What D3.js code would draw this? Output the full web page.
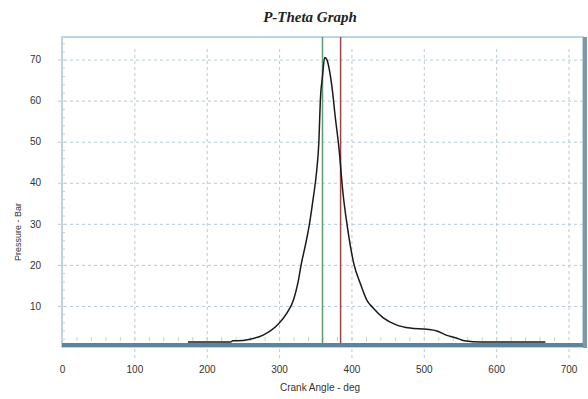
<!DOCTYPE html>
<html>
<head>
<meta charset="utf-8">
<script src="https://cdn.jsdelivr.net/npm/d3@7"></script>
<style>
  body { margin: 0; background: #fff; }
  svg { display: block; }
  .tick text { font-family: "Liberation Sans", Arial, sans-serif; font-size: 10px; fill: #333; }
</style>
</head>
<body>
<svg id="chart" width="588" height="399"></svg>
<script>
// crank angle (deg) vs cylinder pressure (bar)
var angle = [174, 233, 236, 242, 260, 278, 298, 311, 320, 326, 331, 336, 342, 347, 352, 355, 357, 360, 363, 366, 370, 374, 377, 383, 388, 395, 403, 412, 421, 430, 444, 462, 481, 504, 518, 531, 545, 556, 580, 668];
var pressure = [1.2, 1.2, 1.5, 1.5, 1.9, 2.9, 5.4, 8.3, 11.5, 15.6, 20.5, 24.5, 30, 36, 43, 50, 60, 66, 70.5, 70, 67, 62, 57, 48, 38, 28.5, 20.5, 15.6, 11.5, 9.5, 7.1, 5.4, 4.6, 4.3, 3.9, 2.9, 2.2, 1.5, 1.2, 1.2];

var xTicks = [0, 100, 200, 300, 400, 500, 600, 700];
var yTicks = [10, 20, 30, 40, 50, 60, 70];
var markers = [360, 385];   // green, red

var width = 588,
    height = 399,
    margin = {top: 37, right: 5, bottom: 52, left: 62};

var svg = d3.select("#chart");

var x = d3.scaleLinear().domain([0, 720]).range([margin.left, width - margin.right]);
var y = d3.scaleLinear().domain([0, 75.5]).range([height - margin.bottom, margin.top]);

var data = angle.map((a, i) => ({x: a, y: pressure[i]}));

// title
svg.append("text")
    .attr("x", 310)
    .attr("y", 22)
    .attr("text-anchor", "middle")
    .attr("font-family", "Liberation Serif, Times New Roman, serif")
    .attr("font-style", "italic")
    .attr("font-weight", "bold")
    .attr("font-size", 15)
    .attr("fill", "#222")
    .text("P-Theta Graph");

// plot frame
svg.append("rect")
    .attr("x", x(0))
    .attr("y", y.range()[1])
    .attr("width", x(720) - x(0))
    .attr("height", y(0) - y.range()[1])
    .attr("fill", "#fff")
    .attr("stroke", "#a9c7d6")
    .attr("stroke-width", 1.5);

// grid
svg.append("g")
    .attr("transform", "translate(0," + y(0) + ")")
    .call(d3.axisBottom(x).tickValues(xTicks.slice(1)).tickSize(-(y(0) - y.range()[1])).tickFormat(""))
    .call(g => g.select(".domain").remove())
    .call(g => g.selectAll("line").attr("stroke", "#b5cbd6").attr("stroke-dasharray", "3,3").attr("y2", 11 - (y(0) - y.range()[1])).attr("y1", 11));

svg.append("g")
    .attr("transform", "translate(" + x(0) + ",0)")
    .call(d3.axisLeft(y).tickValues(yTicks).tickSize(-(x(720) - x(0)) - 4).tickFormat(""))
    .call(g => g.select(".domain").remove())
    .call(g => g.selectAll("line").attr("stroke", "#b5cbd6").attr("stroke-dasharray", "3,3").attr("transform", "translate(-4,0)"));

// minor ticks inside plot
svg.append("g")
    .attr("transform", "translate(0," + (y(0) - 10) + ")")
    .call(d3.axisBottom(x).tickValues(d3.range(20, 700, 20)).tickSize(4).tickFormat(""))
    .call(g => g.select(".domain").remove())
    .call(g => g.selectAll("line").attr("stroke", "#c2d2da"));

svg.append("g")
    .attr("transform", "translate(" + x(0) + ",0)")
    .call(d3.axisRight(y).tickValues(d3.range(2, 75, 2)).tickSize(3).tickFormat(""))
    .call(g => g.select(".domain").remove())
    .call(g => g.selectAll("line").attr("stroke", "#c2d2da"));

// tick labels
svg.append("g")
    .attr("transform", "translate(0," + y(0) + ")")
    .call(d3.axisBottom(x).tickValues(xTicks).tickSize(0).tickPadding(19))
    .call(g => g.select(".domain").remove());

svg.append("g")
    .attr("transform", "translate(" + (x(0) - 21) + ",0)")
    .call(d3.axisLeft(y).tickValues(yTicks).tickSize(0).tickPadding(0))
    .call(g => g.select(".domain").remove());

// marker lines
var markerColor = ["#5f9c6c", "#a2434c"];
svg.selectAll(".marker")
    .data(markers)
    .join("line")
    .attr("class", "marker")
    .attr("x1", d => x(d))
    .attr("x2", d => x(d))
    .attr("y1", y.range()[1])
    .attr("y2", y(0))
    .attr("stroke", (d, i) => markerColor[i])
    .attr("stroke-width", 1.5);

// pressure curve
var line = d3.line()
    .x(d => x(d.x))
    .y(d => y(d.y))
    .curve(d3.curveMonotoneX);

svg.append("path")
    .datum(data)
    .attr("fill", "none")
    .attr("stroke", "#1a1a1a")
    .attr("stroke-width", 1.5)
    .attr("d", line);

// x axis bar and right border
svg.append("line")
    .attr("x1", x(0))
    .attr("x2", x(720))
    .attr("y1", y(0) - 2)
    .attr("y2", y(0) - 2)
    .attr("stroke", "#5f8398")
    .attr("stroke-width", 4);

svg.append("line")
    .attr("x1", x(720) + 2)
    .attr("x2", x(720) + 2)
    .attr("y1", y.range()[1])
    .attr("y2", y(0) + 1)
    .attr("stroke", "#7d98a9")
    .attr("stroke-width", 4);

// axis titles
svg.append("text")
    .attr("x", 320)
    .attr("y", 391)
    .attr("text-anchor", "middle")
    .attr("font-family", "Liberation Sans, Arial, sans-serif")
    .attr("font-size", 10)
    .attr("fill", "#333")
    .text("Crank Angle - deg");

svg.append("text")
    .attr("transform", "translate(21,232) rotate(-90)")
    .attr("text-anchor", "middle")
    .attr("font-family", "Liberation Sans, Arial, sans-serif")
    .attr("font-size", 9)
    .attr("fill", "#333")
    .text("Pressure - Bar");
</script>
</body>
</html>
